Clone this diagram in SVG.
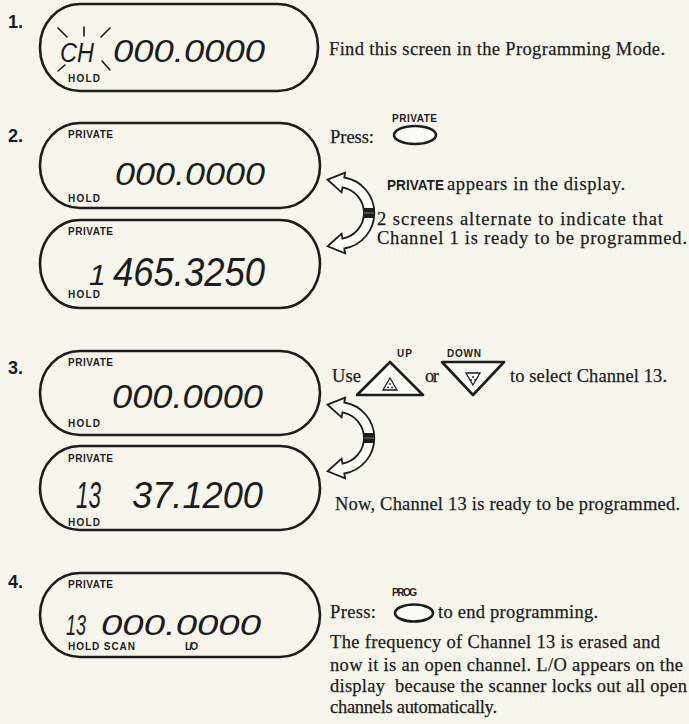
<svg xmlns="http://www.w3.org/2000/svg" width="689" height="724" viewBox="0 0 689 724">
<style>
.bg{fill:#f7f6ec}
.disp{fill:none;stroke:#1c1c1c;stroke-width:2.6}
.dig{font-family:"Liberation Sans",Arial,sans-serif;font-style:italic;fill:#1c1c1c}
.lbl{font-family:"Liberation Sans",Arial,sans-serif;font-weight:bold;font-size:10px;fill:#1c1c1c}
.num{font-family:"Liberation Sans",Arial,sans-serif;font-weight:bold;font-size:18px;fill:#1c1c1c}
.txt{font-family:"Liberation Serif","Times New Roman",serif;font-size:18.5px;fill:#1c1c1c;stroke:#1c1c1c;stroke-width:0.25}
.btn{fill:#fbfbf6;stroke:#1c1c1c;stroke-width:2.6}
.ray{stroke:#1c1c1c;stroke-width:1.6;stroke-linecap:round}
.arw{fill:#fdfdf8;stroke:#1c1c1c;stroke-width:1.8;stroke-linejoin:miter}
</style>
<defs>
<g id="alt">
<path class="arw" d="M-10.4,-33.3 L7.1,-40.4 L6.3,-35.5 A36,36 0 0 1 6.3,35.5 L7.1,40.4 L-10.4,33.3 L3.6,20.7 L4.5,25.6 A26,26 0 0 0 4.5,-25.6 L3.6,-20.7 Z"/>
<rect x="26" y="-5" width="10" height="10" fill="#1c1c1c"/>
<line x1="26" y1="0" x2="36" y2="0" stroke="#777" stroke-width="1"/>
</g>
</defs>
<rect class="bg" x="0" y="0" width="689" height="724"/>

<g id="step1">
<text class="num" x="8" y="28">1.</text>
<rect class="disp" x="40" y="4" width="278" height="87" rx="40" ry="43"/>
<g id="ch-flash">
<line class="ray" x1="58" y1="28" x2="67" y2="37"/>
<line class="ray" x1="84" y1="27" x2="84" y2="36"/>
<line class="ray" x1="110" y1="28" x2="101" y2="37"/>
<line class="ray" x1="65" y1="65" x2="58" y2="71"/>
<line class="ray" x1="102" y1="61" x2="110" y2="70"/>
<text class="dig" x="60" y="62" font-size="27" textLength="34" lengthAdjust="spacingAndGlyphs">CH</text>
</g>
<text class="dig" x="113" y="62" font-size="31" textLength="152" lengthAdjust="spacingAndGlyphs">000.0000</text>
<text class="lbl" x="68" y="82" textLength="32">HOLD</text>
</g>
<text class="txt" x="329" y="55" textLength="336">Find this screen in the Programming Mode.</text>

<g id="step2">
<text class="num" x="8" y="142">2.</text>
<g id="disp2a">
<rect class="disp" x="40" y="123" width="280" height="85" rx="40" ry="42"/>
<text class="lbl" x="68" y="138" textLength="45">PRIVATE</text>
<text class="dig" x="115" y="185" font-size="32" textLength="150" lengthAdjust="spacingAndGlyphs">000.0000</text>
<text class="lbl" x="68" y="202" textLength="32">HOLD</text>
</g>
<g id="disp2b">
<rect class="disp" x="40" y="220" width="280" height="88" rx="40" ry="44"/>
<text class="lbl" x="68" y="235" textLength="45">PRIVATE</text>
<text class="dig" x="89" y="285" font-size="30">1</text>
<text class="dig" x="113" y="286" font-size="40" textLength="152" lengthAdjust="spacingAndGlyphs">465.3250</text>
<text class="lbl" x="68" y="298" textLength="32">HOLD</text>
</g>
<g id="btn-private">
<text class="lbl" x="392" y="122" textLength="45">PRIVATE</text>
<ellipse class="btn" cx="415" cy="135" rx="21" ry="9"/>
</g>
</g>
<g id="connectors">
<use href="#alt" x="338" y="213"/>
<use href="#alt" x="338" y="438"/>
</g>
<text class="txt" x="330" y="143" textLength="44">Press:</text>
<text x="387" y="190" font-family="'Liberation Sans',Arial,sans-serif" font-weight="bold" font-size="15" fill="#1c1c1c" textLength="57" lengthAdjust="spacingAndGlyphs">PRIVATE</text>
<text class="txt" x="447" y="190" textLength="178">appears in the display.</text>
<text class="txt" x="377" y="225" textLength="286">2 screens alternate to indicate that</text>
<text class="txt" x="377" y="244" textLength="310">Channel 1 is ready to be programmed.</text>

<g id="step3">
<text class="num" x="8" y="374">3.</text>
<g id="disp3a">
<rect class="disp" x="40" y="351" width="280" height="84" rx="40" ry="42"/>
<text class="lbl" x="68" y="366" textLength="45">PRIVATE</text>
<text class="dig" x="112" y="408" font-size="34" textLength="151" lengthAdjust="spacingAndGlyphs">000.0000</text>
<text class="lbl" x="68" y="427" textLength="32">HOLD</text>
</g>
<g id="disp3b">
<rect class="disp" x="40" y="446" width="280" height="84" rx="40" ry="42"/>
<text class="lbl" x="68" y="462" textLength="45">PRIVATE</text>
<text class="dig" x="76" y="508" font-size="37" textLength="25" lengthAdjust="spacingAndGlyphs">13</text>
<text class="dig" x="132" y="508" font-size="37" textLength="131" lengthAdjust="spacingAndGlyphs">37.1200</text>
<text class="lbl" x="68" y="526" textLength="32">HOLD</text>
</g>
<g id="btn-up">
<text class="lbl" x="397" y="357" textLength="15">UP</text>
<path class="btn" stroke-linejoin="round" d="M390,362 L423,395 L357,395 Z"/>
<path d="M390,378 L397,390 L383,390 Z" fill="#fff" stroke="#1c1c1c" stroke-width="1.3"/>
<circle cx="390" cy="384" r="0.9" fill="#1c1c1c"/><circle cx="388" cy="387.5" r="0.9" fill="#1c1c1c"/><circle cx="392" cy="387.5" r="0.9" fill="#1c1c1c"/>
</g>
<g id="btn-down">
<text class="lbl" x="447" y="357" textLength="34">DOWN</text>
<path class="btn" stroke-linejoin="round" d="M442,362 L504,362 L473,395 Z"/>
<path d="M466,373 L480,373 L473,385 Z" fill="#fff" stroke="#1c1c1c" stroke-width="1.3"/>
<circle cx="473" cy="377" r="0.9" fill="#1c1c1c"/><circle cx="471" cy="380" r="0.9" fill="#1c1c1c"/><circle cx="475" cy="380" r="0.9" fill="#1c1c1c"/>
</g>
</g>
<text class="txt" x="332" y="382" textLength="29">Use</text>
<text class="txt" x="425" y="382" textLength="14">or</text>
<text class="txt" x="510" y="382" textLength="157">to select Channel 13.</text>
<text class="txt" x="335" y="510" textLength="345">Now, Channel 13 is ready to be programmed.</text>

<g id="step4">
<text class="num" x="8" y="588">4.</text>
<g id="disp4">
<rect class="disp" x="40" y="573" width="280" height="84" rx="40" ry="42"/>
<text class="lbl" x="68" y="588" textLength="45">PRIVATE</text>
<text class="dig" x="66" y="635" font-size="30" textLength="20" lengthAdjust="spacingAndGlyphs">13</text>
<text class="dig" x="101" y="635" font-size="30" textLength="160" lengthAdjust="spacingAndGlyphs">000.0000</text>
<text class="lbl" x="68" y="650" font-size="9.5" textLength="67">HOLD SCAN</text>
<text class="lbl" x="185" y="650" font-size="9.5" textLength="13">L/O</text>
</g>
<g id="btn-prog">
<text class="lbl" x="392" y="596" textLength="25">PROG</text>
<ellipse class="btn" cx="414" cy="613" rx="19" ry="8.5"/>
</g>
</g>
<text class="txt" x="330" y="618" textLength="46">Press:</text>
<text class="txt" x="438" y="618" textLength="160">to end programming.</text>
<text class="txt" x="330" y="648" textLength="330">The frequency of Channel 13 is erased and</text>
<text class="txt" x="330" y="671" textLength="353">now it is an open channel. L/O appears on the</text>
<text class="txt" x="330" y="692" textLength="357" xml:space="preserve">display  because the scanner locks out all open</text>
<text class="txt" x="330" y="713" textLength="167">channels automatically.</text>
</svg>
